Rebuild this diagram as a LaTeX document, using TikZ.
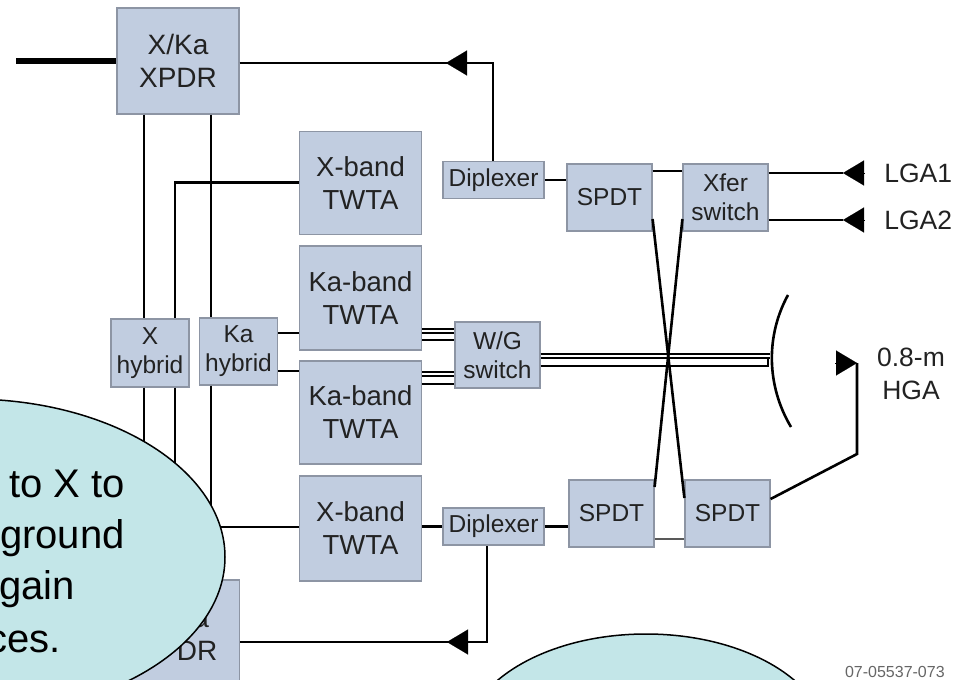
\documentclass[tikz,border=0pt]{standalone}
\usepackage{fontspec}
\setmainfont{Liberation Sans}
\usetikzlibrary{arrows.meta}
\definecolor{blockfill}{HTML}{C1CDE0}
\definecolor{blockline}{HTML}{8D95A4}
\definecolor{bubblefill}{HTML}{C3E6E8}
\definecolor{inktext}{HTML}{222222}

\begin{document}
\begin{tikzpicture}[x=1pt,y=-1pt,line width=2.6pt,
	block/.style={draw=blockline,line width=1.2pt,fill=blockfill,inner sep=0pt,align=center,text=inktext,font=\fontsize{24.5}{29}\selectfont},
	bigblock/.style={block,minimum width=122pt,minimum height=103pt,font=\fontsize{27.5}{33}\selectfont},
	hybridblock/.style={block,minimum width=78pt,minimum height=67pt},
	switchblock/.style={block,minimum width=85pt,minimum height=67pt},
	diplexblock/.style={block,minimum width=101pt,minimum height=37pt},
	label/.style={text=inktext,align=center,font=\fontsize{26.5}{33}\selectfont},
	guide/.style={line width=1.5pt},
	tipmark/.style={-{Triangle[length=21pt,width=25pt]},line width=0.1pt},
	bubble/.style={draw=black,line width=1.5pt,fill=bubblefill},
	bubbletext/.style={anchor=base east,inner sep=0pt,font=\fontsize{40}{40}\selectfont}]
%
	\useasboundingbox (0,0) rectangle (962,680);
	\clip (0,0) rectangle (962,680);
%
	\node[bigblock,minimum height=106pt,font=\fontsize{28}{33}\selectfont] (xpdrtop) at (178,61) {X/Ka\\XPDR};
	\node[bigblock] (xtwtatop) at (360.5,183) {X-band\\TWTA};
	\node[bigblock,minimum height=104pt] (katwtatop) at (360.5,298) {Ka-band\\TWTA};
	\node[bigblock,minimum height=103pt] (katwtabot) at (360.5,412.5) {Ka-band\\TWTA};
	\node[bigblock,minimum height=105pt] (xtwtabot) at (360.5,528.5) {X-band\\TWTA};
	\node[bigblock,minimum height=108pt,font=\fontsize{28}{33}\selectfont] (xpdrbot) at (178.5,634) {X/Ka\\XPDR};
%
	\node[hybridblock,minimum height=68pt] (xhybrid) at (150,353) {X\\hybrid};
	\node[hybridblock] (kahybrid) at (238.5,351.5) {Ka\\hybrid};
	\node[switchblock,minimum height=66pt] (wgswitch) at (497.5,355) {W/G\\switch};
	\node[diplexblock] (diplextop) at (493.5,180) {Diplexer};
	\node[diplexblock] (diplexbot) at (493.5,526.5) {Diplexer};
	\node[switchblock] (spdta) at (609.5,197.5) {SPDT};
	\node[switchblock] (xfer) at (725.5,197.5) {Xfer\\switch};
	\node[switchblock] (spdtb) at (611.5,513.5) {SPDT};
	\node[switchblock] (spdtc) at (727.5,513.5) {SPDT};
%
	\node[label,anchor=west,inner sep=0pt] (lgaa) at (883,173) {LGA1};
	\node[label,anchor=west,inner sep=0pt] (lgab) at (883,220) {LGA2};
	\node[label] (hga) at (911,373.5) {0.8-m\\HGA};
	\node[anchor=east,inner sep=0pt,text=black!60,font=\fontsize{16}{16}\selectfont] (drawingno) at (946,672) {07-05537-073};
%
	\coordinate (inlet) at (16,61);
	\coordinate (cornera) at (493,63);
	\coordinate (tipa) at (446,63);
	\coordinate (basea) at (467,63);
	\coordinate (cornerb) at (487,642);
	\coordinate (tipb) at (447,642);
	\coordinate (baseb) at (468,642);
	\coordinate (tipc) at (843,173);
	\coordinate (basec) at (864,173);
	\coordinate (tipd) at (843,220);
	\coordinate (based) at (864,220);
	\coordinate (tipe) at (857,363);
	\coordinate (basee) at (835,363);
	\coordinate (cornerc) at (857,454);
	\coordinate (dishtop) at (788,295);
	\coordinate (dishbot) at (791,427);
	\coordinate (cornerd) at (175,182.5);
	\coordinate (cornere) at (175,527);
%
	\draw[line width=6pt] (inlet) -- (xpdrtop.west |- inlet);
	\draw (xpdrtop.east |- tipa) -- (cornera) -- (cornera |- diplextop.north);
	\draw[tipmark] (basea) -- (tipa);
	\draw (xpdrbot.east |- tipb) -- (cornerb) -- (cornerb |- diplexbot.south);
	\draw[tipmark] (baseb) -- (tipb);
%
	\draw (144,0 |- xpdrtop.south) -- (144,0 |- xhybrid.north);
	\draw (211,0 |- xpdrtop.south) -- (211,0 |- kahybrid.north);
	\draw (xtwtatop.west |- cornerd) -- (cornerd) -- (cornerd |- xhybrid.north);
	\draw (144,0 |- xhybrid.south) -- (144,0 |- xpdrbot.north);
	\draw (211,0 |- kahybrid.south) -- (211,0 |- xpdrbot.north);
	\draw (cornere |- xhybrid.south) -- (cornere) -- (xtwtabot.west |- cornere);
%
	\draw (kahybrid.east |- 0,333) -- (katwtatop.west |- 0,333);
	\draw (kahybrid.east |- 0,371) -- (katwtabot.west |- 0,371);
	\draw[guide] (katwtatop.east |- 0,329) -- (wgswitch.west |- 0,329);
	\draw[guide] (katwtatop.east |- 0,333) -- (wgswitch.west |- 0,333);
	\draw[guide] (katwtatop.east |- 0,340) -- (wgswitch.west |- 0,340);
	\draw[guide] (katwtabot.east |- 0,372) -- (wgswitch.west |- 0,372);
	\draw[guide] (katwtabot.east |- 0,376) -- (wgswitch.west |- 0,376);
	\draw[guide] (katwtabot.east |- 0,384) -- (wgswitch.west |- 0,384);
	\draw[guide] (wgswitch.east |- 0,354) -- (770,354);
	\draw[guide] (wgswitch.east |- 0,358) -- (770,358);
	\draw[guide] (wgswitch.east |- 0,366) -- (768,366) -- (768,358);
%
	\draw (diplextop.east) -- (spdta.west |- diplextop.east);
	\draw (xtwtabot.east |- diplexbot.west) -- (diplexbot.west);
	\draw (diplexbot.east) -- (spdtb.west |- diplexbot.east);
	\draw (spdta.east |- 0,171) -- (xfer.west |- 0,171);
	\draw[draw=black!65] (spdtb.east |- 0,539) -- (spdtc.west |- 0,539);
	\draw (spdta.east |- 0,219) -- (spdtc.west |- 0,498);
	\draw (xfer.west |- 0,219) -- (spdtb.east |- 0,487);
%
	\draw (xfer.east |- tipc) -- (tipc);
	\draw[tipmark] (basec) -- (tipc);
	\draw (xfer.east |- tipd) -- (tipd);
	\draw[tipmark] (based) -- (tipd);
	\draw (spdtc.east |- 0,499) -- (cornerc) -- (tipe);
	\draw[tipmark] (basee) -- (tipe);
	\draw (dishtop) .. controls (766,335) and (766,385) .. (dishbot);
%
	\draw[bubble] (-30,557) ellipse [x radius=255,y radius=158];
	\draw[bubble] (646,744) ellipse [x radius=182,y radius=110];
	\node[bubbletext] (linea) at (126,497) {to X to};
	\node[bubbletext] (lineb) at (126,548) {ground};
	\node[bubbletext] (linec) at (76,599) {gain};
	\node[bubbletext] (lined) at (62,652) {ces.};
\end{tikzpicture}
\end{document}
